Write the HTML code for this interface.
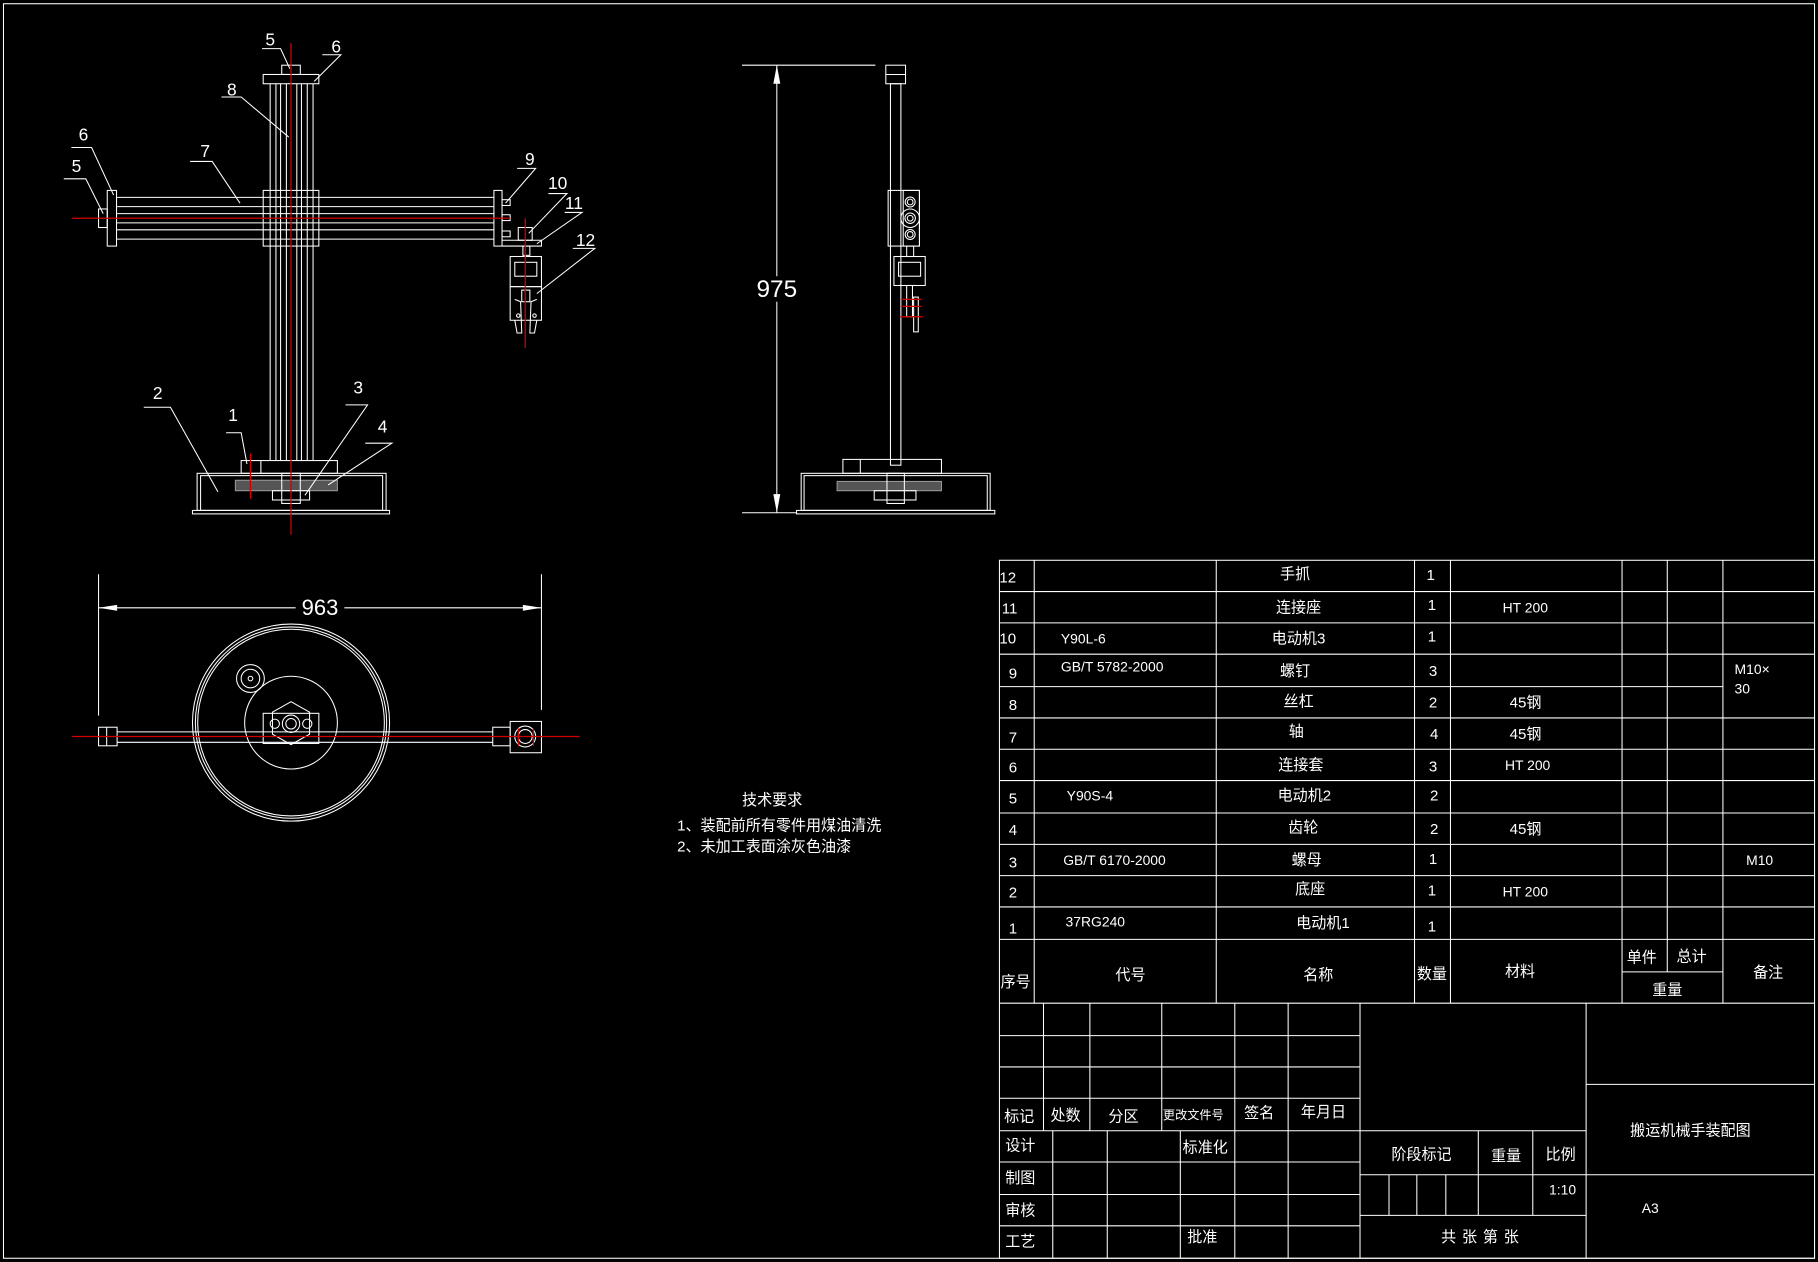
<!DOCTYPE html>
<html><head><meta charset="utf-8"><style>
html,body{margin:0;padding:0;background:#000;}
svg{display:block;}
text{font-family:"Liberation Sans","Noto Sans CJK SC",sans-serif;fill:#fff;}
.m{font-family:"Liberation Mono","Noto Sans CJK SC",monospace;}
</style></head><body>
<svg width="1818" height="1262" viewBox="0 0 1568 1088" xmlns="http://www.w3.org/2000/svg">
<rect x="0" y="0" width="1568" height="1088" fill="#000"/>
<g fill="none" stroke="#fff" stroke-width="0.9">
<rect x="3" y="3" width="1562" height="1082"/>
<!-- FRONT VIEW -->
<rect x="243" y="56" width="16" height="8"/>
<rect x="227" y="64" width="48" height="8"/>
<line x1="233" y1="72" x2="233" y2="397"/><line x1="238" y1="72" x2="238" y2="397"/>
<line x1="242" y1="72" x2="242" y2="397"/><line x1="247" y1="72" x2="247" y2="397"/>
<line x1="256" y1="72" x2="256" y2="397"/><line x1="260" y1="72" x2="260" y2="397"/>
<line x1="265" y1="72" x2="265" y2="397"/><line x1="270" y1="72" x2="270" y2="397"/>
<line x1="101" y1="170" x2="426" y2="170"/><line x1="101" y1="178" x2="426" y2="178"/>
<line x1="101" y1="184" x2="426" y2="184"/><line x1="101" y1="192" x2="426" y2="192"/>
<line x1="101" y1="198" x2="426" y2="198"/><line x1="101" y1="206" x2="426" y2="206"/>
<rect x="227" y="164" width="48" height="48"/>
<rect x="92.5" y="164" width="8" height="48"/>
<rect x="85" y="180" width="7.5" height="16"/>
<rect x="426" y="164" width="7" height="48"/>
<rect x="433" y="172" width="7" height="5"/><rect x="433" y="185" width="7" height="5"/><rect x="433" y="199" width="7" height="5"/>
<polyline points="433,207 467,207 467,212 433,212"/>
<rect x="447" y="196" width="12" height="11"/>
<rect x="451" y="212" width="6" height="8"/>
<rect x="440" y="221" width="27" height="26"/>
<rect x="444" y="226" width="19" height="12"/>
<rect x="440" y="247" width="27" height="29"/>
<polyline points="444,276 446,287 450,287 449,260 444,258"/>
<polyline points="463,276 461,287 457,287 458,260 463,258"/>
<circle cx="447" cy="272" r="1.5"/><circle cx="461" cy="272" r="1.5"/>
<rect x="450" y="250" width="7" height="10"/>
<!-- base -->
<rect x="208" y="397" width="83" height="11"/>
<line x1="225" y1="397" x2="225" y2="408"/>
<rect x="170" y="408" width="163" height="32"/>
<rect x="173" y="410" width="157" height="30"/>
<rect x="166" y="440" width="170" height="3"/>
<rect x="203" y="414" width="88" height="9" fill="#555" stroke="#999"/>
<rect x="235" y="423" width="32" height="8"/>
<rect x="243" y="408" width="16" height="26"/>
<!-- leaders -->
<polyline points="226,41.7 242,41.7 250,59"/>
<polyline points="278,47 294,47 271,70"/>
<polyline points="191,83.4 208,83.4 249,118"/>
<polyline points="61.6,127 79,127 98,168"/>
<polyline points="55,154 74,154 89,184"/>
<polyline points="164,139 183,139 207,175"/>
<polyline points="446,145 462,145 436,175"/>
<polyline points="473,166.7 489,166.7 456,201"/>
<polyline points="487,183 502,183 463,210"/>
<polyline points="494,214 513,214 463,253"/>
<polyline points="124,351 147,351 188,424"/>
<polyline points="195,373 208,373 213,400"/>
<polyline points="298,349 317,349 263,427"/>
<polyline points="315,382 338,382 283,418"/>
<!-- SIDE VIEW -->
<line x1="640" y1="56" x2="755" y2="56"/><line x1="640" y1="442" x2="687" y2="442"/>
<line x1="670" y1="56" x2="670" y2="238"/><line x1="670" y1="260" x2="670" y2="442"/>
<rect x="764" y="56" width="17" height="16"/><line x1="764" y1="64" x2="781" y2="64"/>
<rect x="768" y="72" width="9" height="329"/>
<rect x="766" y="164" width="27" height="48"/>
<rect x="779" y="164" width="14" height="48"/>
<circle cx="785" cy="174" r="4.3"/><circle cx="785" cy="174" r="2.5"/>
<circle cx="785" cy="188" r="8"/><circle cx="785" cy="188" r="4.5"/><circle cx="785" cy="188" r="2.5"/>
<circle cx="785" cy="202" r="4.3"/><circle cx="785" cy="202" r="2.5"/>
<rect x="782" y="212" width="6" height="9"/>
<rect x="771" y="221" width="27" height="25"/>
<rect x="775" y="226" width="19" height="12"/>
<rect x="782" y="246" width="5" height="27"/>
<rect x="788" y="256" width="4" height="30"/>
<rect x="727" y="396" width="85" height="12"/>
<line x1="742" y1="396" x2="742" y2="408"/>
<rect x="691" y="408" width="163" height="32"/>
<rect x="693.5" y="410" width="158" height="30"/>
<rect x="687" y="440" width="171" height="3"/>
<rect x="722" y="415" width="90" height="8" fill="#555" stroke="#999"/>
<rect x="754" y="423" width="36" height="8"/>
<rect x="765" y="408" width="15" height="26"/>
<!-- TOP VIEW -->
<line x1="85" y1="495" x2="85" y2="617"/><line x1="467" y1="495" x2="467" y2="612"/>
<line x1="85" y1="524" x2="255" y2="524"/><line x1="297" y1="524" x2="467" y2="524"/>
<circle cx="251" cy="623" r="85"/><circle cx="251" cy="623" r="82.5"/><circle cx="251" cy="623" r="80.5"/>
<circle cx="251" cy="623" r="40"/>
<circle cx="216" cy="585" r="12"/><circle cx="216" cy="585" r="8"/><circle cx="216" cy="585" r="2"/>
<line x1="101" y1="631" x2="425" y2="631"/><line x1="101" y1="640" x2="425" y2="640"/>
<rect x="227" y="615" width="48" height="26"/>
<polygon points="251,605 267,614 267,633 251,642 235,633 235,614"/>
<circle cx="251" cy="624" r="7.5"/><circle cx="251" cy="624" r="4.5"/>
<circle cx="237" cy="624" r="4"/><circle cx="265" cy="624" r="4"/>
<rect x="85" y="627" width="16" height="16"/><line x1="92" y1="627" x2="92" y2="643"/>
<rect x="425" y="627" width="15" height="16"/>
<rect x="440" y="622" width="27" height="27"/>
<circle cx="453" cy="635" r="9"/><circle cx="453" cy="635" r="6"/>
<!-- TABLE -->
<rect x="862" y="483" width="703" height="602"/>
<line x1="862" y1="510" x2="1565" y2="510"/><line x1="862" y1="537" x2="1565" y2="537"/>
<line x1="862" y1="564" x2="1565" y2="564"/><line x1="862" y1="592" x2="1486" y2="592"/>
<line x1="862" y1="619" x2="1565" y2="619"/><line x1="862" y1="646" x2="1565" y2="646"/>
<line x1="862" y1="673" x2="1565" y2="673"/><line x1="862" y1="701" x2="1565" y2="701"/>
<line x1="862" y1="728" x2="1565" y2="728"/><line x1="862" y1="755" x2="1565" y2="755"/>
<line x1="862" y1="782" x2="1565" y2="782"/><line x1="862" y1="810" x2="1565" y2="810"/>
<line x1="862" y1="865" x2="1565" y2="865"/>
<line x1="892" y1="483" x2="892" y2="865"/><line x1="1049" y1="483" x2="1049" y2="865"/>
<line x1="1220" y1="483" x2="1220" y2="865"/><line x1="1251" y1="483" x2="1251" y2="865"/>
<line x1="1399" y1="483" x2="1399" y2="865"/><line x1="1438" y1="483" x2="1438" y2="838"/>
<line x1="1486" y1="483" x2="1486" y2="865"/><line x1="1399" y1="838" x2="1486" y2="838"/>
<!-- title block -->
<line x1="862" y1="893" x2="1173" y2="893"/><line x1="862" y1="920" x2="1173" y2="920"/>
<line x1="862" y1="947" x2="1173" y2="947"/><line x1="862" y1="975" x2="1368" y2="975"/>
<line x1="862" y1="1002" x2="1173" y2="1002"/><line x1="862" y1="1030" x2="1173" y2="1030"/>
<line x1="862" y1="1057" x2="1173" y2="1057"/>
<line x1="900" y1="865" x2="900" y2="975"/><line x1="940" y1="865" x2="940" y2="975"/>
<line x1="1002" y1="865" x2="1002" y2="975"/>
<line x1="908" y1="975" x2="908" y2="1085"/><line x1="955" y1="975" x2="955" y2="1085"/>
<line x1="1018" y1="975" x2="1018" y2="1085"/>
<line x1="1065" y1="865" x2="1065" y2="1085"/><line x1="1111" y1="865" x2="1111" y2="1085"/>
<line x1="1173" y1="865" x2="1173" y2="1085"/><line x1="1368" y1="865" x2="1368" y2="1085"/>
<line x1="1173" y1="1013" x2="1565" y2="1013"/><line x1="1173" y1="1048" x2="1368" y2="1048"/>
<line x1="1368" y1="935" x2="1565" y2="935"/>
<line x1="1275" y1="975" x2="1275" y2="1048"/><line x1="1322" y1="975" x2="1322" y2="1048"/>
<line x1="1198" y1="1013" x2="1198" y2="1048"/><line x1="1222" y1="1013" x2="1222" y2="1048"/>
<line x1="1247" y1="1013" x2="1247" y2="1048"/>
</g>
<!-- arrows -->
<g fill="#fff">
<polygon points="670,56 667,72 673,72"/><polygon points="670,442 667,426 673,426"/>
<polygon points="85,524 101,521.5 101,526.5"/><polygon points="467,524 451,521.5 451,526.5"/>
</g>
<!-- red center lines -->
<g stroke="#d00000" stroke-width="1.1">
<line x1="251" y1="37" x2="251" y2="461"/>
<line x1="62" y1="188" x2="440" y2="188"/>
<line x1="453" y1="188" x2="453" y2="300"/>
<line x1="216" y1="391" x2="216" y2="430"/>
<line x1="62" y1="635" x2="500" y2="635"/>
<line x1="447" y1="628" x2="447" y2="643"/><line x1="460" y1="628" x2="460" y2="643"/>
<line x1="777" y1="258" x2="795" y2="258"/><line x1="777" y1="264" x2="795" y2="264"/>
<line x1="776" y1="273" x2="796" y2="273"/>
</g>
<!-- labels -->
<g font-size="15">
<text x="233" y="39" text-anchor="middle">5</text>
<text x="290" y="45" text-anchor="middle">6</text>
<text x="200" y="82" text-anchor="middle">8</text>
<text x="72" y="121" text-anchor="middle">6</text>
<text x="66" y="148" text-anchor="middle">5</text>
<text x="177" y="135" text-anchor="middle">7</text>
<text x="457" y="142" text-anchor="middle">9</text>
<text x="481" y="163" text-anchor="middle">10</text>
<text x="495" y="180" text-anchor="middle">11</text>
<text x="505" y="212" text-anchor="middle">12</text>
<text x="136" y="344" text-anchor="middle">2</text>
<text x="201" y="363" text-anchor="middle">1</text>
<text x="309" y="339" text-anchor="middle">3</text>
<text x="330" y="373" text-anchor="middle">4</text>
</g>
<text x="670" y="256" font-size="21" text-anchor="middle">975</text>
<text x="276" y="530" font-size="19" text-anchor="middle">963</text>
<g font-size="13">
<text x="640" y="694">技术要求</text>
<text x="584" y="716">1、装配前所有零件用煤油清洗</text>
<text x="584" y="734">2、未加工表面涂灰色油漆</text>
</g>
<g font-size="13">
<text x="862" y="502">12</text><text x="864" y="529">11</text><text x="862" y="555">10</text>
<text x="870" y="585">9</text><text x="870" y="612">8</text><text x="870" y="640">7</text>
<text x="870" y="666">6</text><text x="870" y="693">5</text><text x="870" y="720">4</text>
<text x="870" y="748">3</text><text x="870" y="774">2</text><text x="870" y="805">1</text>
<g text-anchor="middle">
<text x="1117" y="499">手抓</text><text x="1120" y="528">连接座</text><text x="1120" y="555">电动机3</text>
<text x="1117" y="583">螺钉</text><text x="1120" y="609">丝杠</text><text x="1118" y="635">轴</text>
<text x="1122" y="664">连接套</text><text x="1125" y="690">电动机2</text><text x="1124" y="718">齿轮</text>
<text x="1127" y="746">螺母</text><text x="1130" y="771">底座</text><text x="1141" y="800">电动机1</text>
</g>
<g text-anchor="middle">
<text x="1234" y="500">1</text><text x="1235" y="526">1</text><text x="1235" y="553">1</text>
<text x="1236" y="583">3</text><text x="1236" y="610">2</text><text x="1237" y="637">4</text>
<text x="1236" y="665">3</text><text x="1237" y="690">2</text><text x="1237" y="719">2</text>
<text x="1236" y="745">1</text><text x="1235" y="772">1</text><text x="1235" y="803">1</text>
</g>
<g class="m" font-size="12">
<text x="915" y="555">Y90L-6</text><text x="915" y="579">GB/T 5782-2000</text>
<text x="920" y="690">Y90S-4</text><text x="917" y="746">GB/T 6170-2000</text>
<text x="919" y="799">37RG240</text>
<text x="1296" y="528">HT 200</text><text x="1298" y="664">HT 200</text><text x="1296" y="773">HT 200</text>
<text x="1496" y="581">M10×</text><text x="1496" y="598">30</text><text x="1506" y="746">M10</text>
<text x="1336" y="1030">1:10</text><text x="1416" y="1046">A3</text>
</g>
<text x="1302" y="610">45钢</text><text x="1302" y="637">45钢</text><text x="1302" y="719">45钢</text>
<text x="863" y="851">序号</text><text x="962" y="845">代号</text><text x="1124" y="845">名称</text>
<text x="1222" y="844">数量</text><text x="1298" y="842">材料</text>
<text x="1403" y="830">单件</text><text x="1446" y="829">总计</text><text x="1425" y="858">重量</text>
<text x="1512" y="843">备注</text>
<text x="866" y="967">标记</text><text x="906" y="966">处数</text><text x="956" y="967">分区</text>
<text x="1003" y="965" font-size="10.5">更改文件号</text><text x="1073" y="964">签名</text><text x="1122" y="963">年月日</text>
<text x="867" y="992">设计</text><text x="1020" y="994">标准化</text><text x="867" y="1020">制图</text>
<text x="867" y="1048">审核</text><text x="867" y="1075">工艺</text><text x="1024" y="1071">批准</text>
<text x="1200" y="1000">阶段标记</text><text x="1286" y="1001">重量</text><text x="1333" y="1000">比例</text>
<text x="1243" y="1071" letter-spacing="5">共张第张</text>
<text x="1406" y="979">搬运机械手装配图</text>
</g>
</svg>
</body></html>
